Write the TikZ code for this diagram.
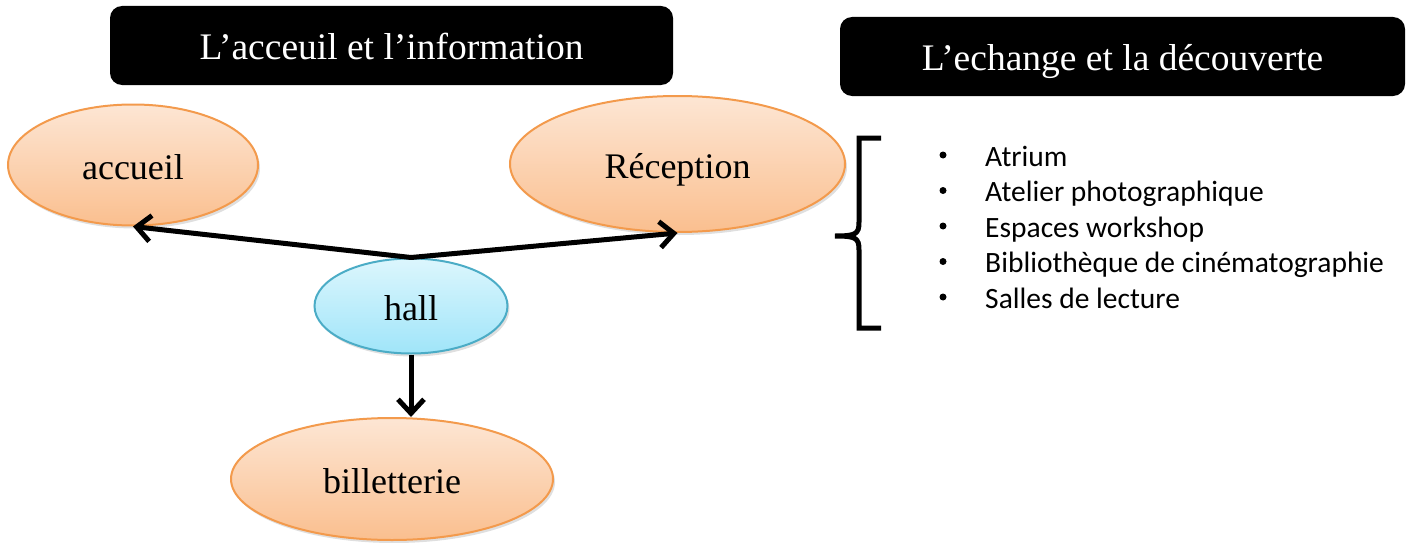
\documentclass[tikz,border=0pt]{standalone}
\usepackage{fontspec}
\setmainfont{Liberation Serif}
\newfontfamily\listfont{Carlito}
\usetikzlibrary{shapes.geometric,arrows.meta,shadows}
\definecolor{orTop}{HTML}{FDE6D4}
\definecolor{orBot}{HTML}{FABF8F}
\definecolor{orLine}{HTML}{F39A4C}
\definecolor{blTop}{HTML}{DCF6FD}
\definecolor{blBot}{HTML}{A0E5F9}
\definecolor{blLine}{HTML}{4BACC6}
\tikzset{
  ellbase/.style={ellipse, line width=2pt, inner sep=0pt, text height=30pt, text depth=2pt,
    font=\fontsize{36}{43}\selectfont, drop shadow={opacity=0.25, shadow xshift=2pt, shadow yshift=-3pt}},
  orell/.style={ellbase, draw=orLine, top color=orTop, bottom color=orBot},
  blell/.style={ellbase, draw=blLine, top color=blTop, bottom color=blBot},
  titlebox/.style={fill=black, rounded corners=12pt, text=white, inner sep=0pt,
    text height=28pt, text depth=0pt, font=\fontsize{37.5}{44}\selectfont},
  conn/.style={line width=5pt, -{Straight Barb[length=14pt,width=26pt]}},
  listitem/.style={anchor=base west, inner sep=0pt, font=\listfont\fontsize{29.5}{35}\selectfont},
  bulletdot/.style={circle, fill=black, inner sep=0pt, minimum size=7pt}
}
\begin{document}
\begin{tikzpicture}[x=1pt,y=-1pt]
\useasboundingbox (0,0) rectangle (1413,543);
\node[titlebox, minimum width=563pt, minimum height=79pt] (t1) at (391.5,45.5) {L’acceuil et l’information};
\node[titlebox, minimum width=565pt, minimum height=79pt] (t2) at (1122.5,56.5) {L’echange et la découverte};

\node[orell, minimum width=250pt, minimum height=121pt] (acc) at (133,165) {accueil};
\node[orell, minimum width=335pt, minimum height=136pt] (rec) at (677.5,164) {Réception};
\node[blell, minimum width=193pt, minimum height=95pt] (hall) at (411,306) {hall};
\node[orell, minimum width=322pt, minimum height=122pt] (bil) at (392,479) {billetterie};

\draw[conn] (hall.north) -- (acc.south);
\draw[conn] (hall.north) -- (rec.south);
\draw[conn] (hall.south) -- (hall.south |- bil.north);

\coordinate (bt) at (881,138);
\coordinate (bb) at (881,328);
\coordinate (bm) at (835,236);
\draw[line width=5pt] (bt) -- (859,138) -- (859,222) .. controls (859,234) and (856,236) .. (bm)
  .. controls (856,236) and (859,238) .. (859,250) -- (859,328) -- (bb);

\foreach \i/\txt/\yy in {1/Atrium/166, 2/Atelier photographique/201.5, 3/Espaces workshop/237, 4/Bibliothèque de cinématographie/272.5, 5/Salles de lecture/308}{
  \node[bulletdot] (b\i) at (943,\yy-11) {};
  \node[listitem] (l\i) at (985,\yy) {\txt};
}
\end{tikzpicture}
\end{document}
